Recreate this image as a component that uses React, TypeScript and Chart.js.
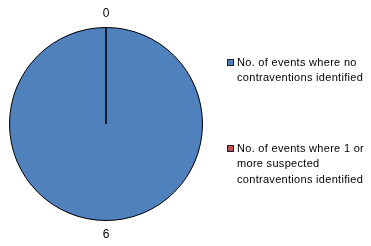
import React, { useEffect, useRef } from "react";
import { Chart, registerables } from "chart.js";

Chart.register(...registerables);

const categories: string[][] = [
  ["No. of events where no", "contraventions identified"],
  ["No. of events where 1 or", "more suspected", "contraventions identified"],
];
const values: number[] = [6, 0];
const colors: string[] = ["#4F81BD", "#C0504D"];

const valueLabels = {
  id: "valueLabels",
  afterDatasetsDraw(chart: any) {
    const ctx = chart.ctx;
    const meta = chart.getDatasetMeta(0);
    ctx.save();
    ctx.font = "12px 'Liberation Sans', sans-serif";
    ctx.fillStyle = "#000";
    ctx.textAlign = "center";
    ctx.textBaseline = "middle";
    meta.data.forEach((arc: any, i: number) => {
      const p = arc.getProps(["x", "y", "startAngle", "endAngle", "outerRadius"], true);
      const mid = (p.startAngle + p.endAngle) / 2;
      const r = p.outerRadius + 14;
      ctx.fillText(String(values[i]), p.x + Math.cos(mid) * r, p.y + Math.sin(mid) * r);
    });
    ctx.restore();
  },
};

const sideLegend = {
  id: "sideLegend",
  afterDraw(chart: any) {
    const ctx = chart.ctx;
    ctx.save();
    ctx.font = "11px 'Liberation Sans', sans-serif";
    (ctx as any).letterSpacing = "0.3px";
    ctx.textBaseline = "middle";
    ctx.textAlign = "left";
    const x0 = 227;
    const starts = [63, 149];
    const lh = 15.4;
    categories.forEach((lines, i) => {
      const y = starts[i];
      ctx.fillStyle = colors[i];
      ctx.fillRect(x0 + 0.5, y - 3.5, 6, 6);
      ctx.strokeStyle = "#222";
      ctx.lineWidth = 1;
      ctx.strokeRect(x0 + 0.5, y - 3.5, 6, 6);
      ctx.fillStyle = "#000";
      lines.forEach((t, j) => ctx.fillText(t, x0 + 10, y + j * lh));
    });
    ctx.restore();
  },
};

export default function App() {
  const ref = useRef<HTMLCanvasElement>(null);
  useEffect(() => {
    const chart = new Chart(ref.current!, {
      type: "pie",
      data: {
        labels: categories.map((l) => l.join(" ")),
        datasets: [
          {
            data: values,
            backgroundColor: colors,
            borderColor: "#000",
            borderWidth: 1,
          },
        ],
      },
      options: {
        animation: false,
        responsive: false,
        layout: { padding: { left: 9, right: 168, top: 27, bottom: 25 } },
        plugins: { legend: { display: false }, tooltip: { enabled: false } },
      },
      plugins: [valueLabels, sideLegend],
    });
    return () => chart.destroy();
  }, []);
  return (
    <div style={{ position: "fixed", left: 0, top: 0, width: 371, height: 246, background: "#fff" }}>
      <canvas ref={ref} width={371} height={246} />
    </div>
  );
}
